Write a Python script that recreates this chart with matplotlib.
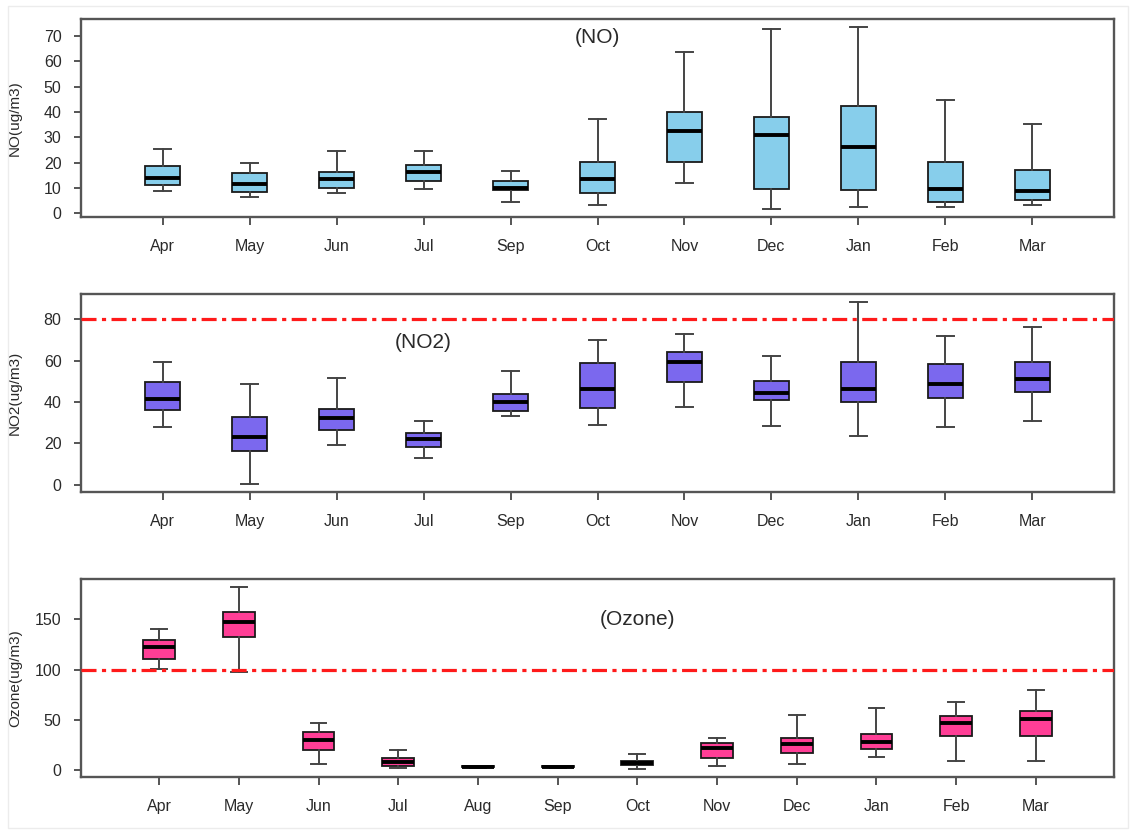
import matplotlib
matplotlib.use("Agg")
import matplotlib.pyplot as plt
from matplotlib.patches import Rectangle

plt.rcParams['font.family'] = ['Liberation Sans', 'DejaVu Sans']

# ---------------- data ----------------
no_months = ['Apr', 'May', 'Jun', 'Jul', 'Sep', 'Oct', 'Nov', 'Dec', 'Jan', 'Feb', 'Mar']
no_low = [8.7, 6.5, 8.1, 9.8, 4.4, 3.3, 12.0, 1.6, 2.6, 2.7, 3.3]
no_q1 = [11.1, 8.6, 10.2, 12.9, 9.1, 8.2, 20.5, 9.7, 9.1, 4.4, 5.2]
no_med = [13.8, 11.6, 13.7, 16.3, 10.2, 13.7, 32.6, 31.0, 26.3, 9.8, 9.0]
no_q3 = [18.7, 15.8, 16.2, 19.2, 12.9, 20.5, 40.2, 38.0, 42.3, 20.5, 17.2]
no_high = [25.3, 20.1, 24.7, 24.7, 16.8, 37.1, 63.7, 73.0, 73.8, 44.8, 35.4]

no2_months = ['Apr', 'May', 'Jun', 'Jul', 'Sep', 'Oct', 'Nov', 'Dec', 'Jan', 'Feb', 'Mar']
no2_low = [27.7, 0.2, 19.0, 13.0, 33.1, 29.0, 37.8, 28.5, 23.7, 27.7, 30.6]
no2_q1 = [36.3, 16.5, 26.6, 18.1, 35.7, 37.0, 49.6, 41.0, 40.2, 42.2, 45.0]
no2_med = [41.3, 22.9, 32.5, 22.2, 40.0, 46.4, 59.2, 44.5, 46.4, 48.5, 51.2]
no2_q3 = [49.6, 33.0, 36.8, 25.0, 43.7, 58.9, 64.3, 50.2, 59.5, 58.2, 59.5]
no2_high = [59.5, 48.5, 51.8, 30.6, 55.0, 69.9, 73.1, 62.4, 88.6, 71.7, 76.5]
no2_limit = 80

o3_months = ['Apr', 'May', 'Jun', 'Jul', 'Aug', 'Sep', 'Oct', 'Nov', 'Dec', 'Jan', 'Feb', 'Mar']
o3_low = [100.2, 97.9, 5.6, 1.6, 2.0, 2.0, 0.5, 4.0, 5.6, 12.9, 8.6, 8.6]
o3_q1 = [110.8, 132.5, 19.5, 4.3, 2.5, 2.5, 4.6, 12.2, 16.8, 20.8, 33.6, 33.6]
o3_med = [122.0, 147.4, 29.3, 8.2, 3.0, 3.0, 7.3, 21.4, 25.4, 27.4, 46.5, 50.4]
o3_q3 = [129.6, 157.3, 37.3, 11.5, 3.5, 3.5, 9.2, 26.7, 32.0, 35.9, 54.1, 59.0]
o3_high = [140.8, 182.7, 47.1, 19.5, 4.0, 4.0, 15.8, 31.3, 54.4, 61.3, 67.9, 79.1]
o3_limit = 100

no_ticks = [0, 10, 20, 30, 40, 50, 60, 70]
no2_ticks = [0, 20, 40, 60, 80]
o3_ticks = [0, 50, 100, 150]

# ---------------- figure ----------------
W, H = 1137, 834
fig = plt.figure(figsize=(W / 100, H / 100), dpi=100)
fig.patches.append(Rectangle((8 / W, 6 / H), 1120 / W, 822 / H, transform=fig.transFigure,
                             fill=False, edgecolor='#ececec', lw=1))

FRAME = '#555555'
TXT = '#2a2a2a'


def panel(rect, months, low, q1, med, q3, high, color, ylabel, yticks,
          title, title_xy, limit=None):
    ax = fig.add_axes(rect)
    stats = []
    for i, m in enumerate(months):
        stats.append(dict(label=m, whislo=low[i], q1=q1[i], med=med[i],
                          q3=q3[i], whishi=high[i], fliers=[]))
    n = len(months)
    ax.bxp(stats, positions=range(1, n + 1), widths=0.4, capwidths=0.2,
           showfliers=False, patch_artist=True,
           boxprops=dict(facecolor=color, edgecolor='#1a1a1a', linewidth=1.3),
           medianprops=dict(color='black', linewidth=2.8, solid_capstyle='butt'),
           whiskerprops=dict(color='#444444', linewidth=1.4),
           capprops=dict(color='#444444', linewidth=1.4))
    lo = min(low)
    hi = max(high)
    ext = 0.04 * (hi - lo)
    ax.set_ylim(lo - ext, hi + ext)
    ax.set_xlim(0.5 - 0.04 * n, n + 0.5 + 0.04 * n)
    if limit is not None:
        ax.axhline(limit, color='#ff1a1a', linewidth=2.3,
                   dashes=[4.7, 1.7, 1.3, 1.7], zorder=5)
    ax.set_xticks(range(1, n + 1))
    ax.set_xticklabels(months)
    ax.set_yticks(yticks)
    ax.set_yticklabels([str(t) for t in yticks])
    for s in ax.spines.values():
        s.set_color(FRAME)
        s.set_linewidth(1.7)
    ax.tick_params(axis='x', length=6, width=1.4, color=FRAME, pad=10,
                   labelsize=11.5, labelcolor=TXT)
    ax.tick_params(axis='y', length=5, width=1.4, color=FRAME, pad=9,
                   labelsize=11.5, labelcolor=TXT)
    ax.set_ylabel(ylabel, fontsize=11, color=TXT)
    ax.yaxis.set_label_coords(-0.057, 0.5)
    ax.text(title_xy[0], title_xy[1], title, fontsize=15, color=TXT,
            ha='center', va='center')
    return ax


left = 81 / W
width = (1114 - 81) / W
height = 197.5 / H

panel([left, 1 - 216.7 / H, width, height], no_months, no_low, no_q1, no_med,
      no_q3, no_high, '#87ceeb', 'NO(ug/m3)', no_ticks, '(NO)', (6, 69.5))
panel([left, 1 - 491.7 / H, width, height], no2_months, no2_low, no2_q1, no2_med,
      no2_q3, no2_high, '#7b68ee', 'NO2(ug/m3)', no2_ticks, '(NO2)', (4, 69),
      limit=no2_limit)
panel([left, 1 - 776.7 / H, width, height], o3_months, o3_low, o3_q1, o3_med,
      o3_q3, o3_high, '#ff3e96', 'Ozone(ug/m3)', o3_ticks, '(Ozone)', (7, 150),
      limit=o3_limit)

fig.savefig('out.png', dpi=100)
